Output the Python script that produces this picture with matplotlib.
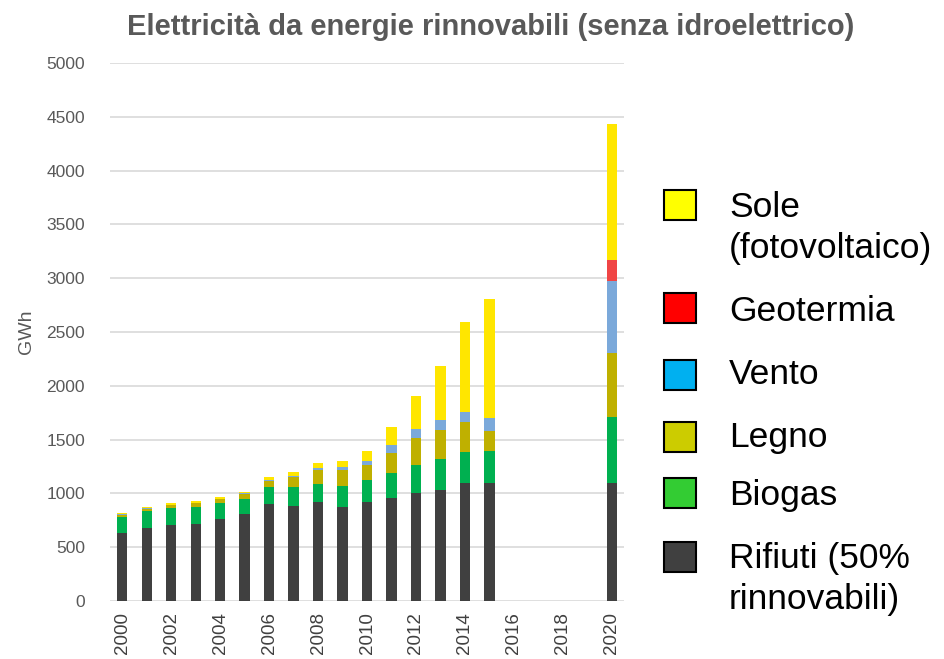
import matplotlib
matplotlib.use("Agg")
import matplotlib.pyplot as plt
from matplotlib.patches import Rectangle
import numpy as np

plt.rcParams['font.family'] = ['Liberation Sans', 'DejaVu Sans']

years = [2000, 2001, 2002, 2003, 2004, 2005, 2006, 2007, 2008, 2009,
         2010, 2011, 2012, 2013, 2014, 2015, 2020]
rifiuti = [635, 677, 709, 718, 761, 807, 906, 887, 916, 872,
           918, 955, 1002, 1033, 1095, 1095, 1095]
biogas = [145, 158, 151, 154, 148, 143, 150, 171, 173, 198,
          208, 232, 264, 284, 294, 303, 617]
legno = [20, 20, 30, 35, 35, 40, 55, 92, 130, 149,
         142, 190, 251, 276, 272, 186, 597]
vento = [5, 5, 6, 8, 8, 10, 18, 16, 18, 24,
         37, 70, 86, 90, 99, 117, 665]
geotermia = [0, 0, 0, 0, 0, 0, 0, 0, 0, 0,
             0, 0, 0, 0, 0, 0, 196]
sole = [10, 10, 17, 13, 13, 15, 19, 31, 43, 62,
        93, 167, 300, 503, 837, 1110, 1264]

series_names = ["Rifiuti", "Biogas", "Legno", "Vento", "Geotermia", "Sole"]
series_vals = [rifiuti, biogas, legno, vento, geotermia, sole]
bar_colors = ["#404040", "#00B050", "#BFB000", "#7BA9DA", "#F04545", "#FFE600"]

legend_labels = ["Sole\n(fotovoltaico)", "Geotermia", "Vento", "Legno", "Biogas",
                 "Rifiuti (50%\nrinnovabili)"]
legend_colors = ["#FFFF00", "#FF0000", "#00B0F0", "#CCCC00", "#33CC33", "#404040"]

yticks = [0, 500, 1000, 1500, 2000, 2500, 3000, 3500, 4000, 4500, 5000]
xticks = [2000, 2002, 2004, 2006, 2008, 2010, 2012, 2014, 2016, 2018, 2020]

W, H = 945, 659
fig = plt.figure(figsize=(W / 100, H / 100), dpi=100)
ax = fig.add_axes([110 / W, 1 - 601 / H, (624 - 110) / W, (601 - 63) / H])

bottom = np.zeros(len(years))
for name, vals, c in zip(series_names, series_vals, bar_colors):
    v = np.array(vals, dtype=float)
    ax.bar(years, v, bottom=bottom, width=0.42, color=c, label=name, zorder=3)
    bottom += v

ax.set_xlim(1999.5, 2020.5)
ax.set_ylim(0, 5000)
ax.set_yticks(yticks)
ax.set_xticks(xticks)
ax.set_xticklabels([str(x) for x in xticks], rotation=90, fontsize=13.5, color="#404040")
ax.set_yticklabels([str(y) for y in yticks], fontsize=12.5, color="#595959")
ax.tick_params(axis='both', length=0)
ax.tick_params(axis='y', pad=18)
ax.tick_params(axis='x', pad=8)
ax.grid(axis='y', color="#D9D9D9", linewidth=1.2, zorder=0)
for s in ax.spines.values():
    s.set_visible(False)
ax.set_ylabel("GWh", fontsize=14, color="#595959", labelpad=8)

fig.text(491 / W, 1 - 27 / H, "Elettricità da energie rinnovabili (senza idroelettrico)",
         ha='center', va='center', fontsize=21, fontweight='bold', color="#595959")

# legend (drawn manually, as in the reference)
sq_centers = [205, 308, 375, 437, 493, 557]
text_centers = [228, 312, 375, 437, 495, 579]
for yc, tc, lab, col in zip(sq_centers, text_centers, legend_labels, legend_colors):
    fig.patches.append(Rectangle((664 / W, 1 - (yc + 15) / H), 32 / W, 30 / H,
                                 transform=fig.transFigure, facecolor=col,
                                 edgecolor="black", linewidth=1.5))
    fig.text(729 / W, 1 - tc / H, lab, ha='left', va='center', fontsize=25.5,
             color="black", linespacing=1.32)

fig.savefig("out.png", dpi=100)
